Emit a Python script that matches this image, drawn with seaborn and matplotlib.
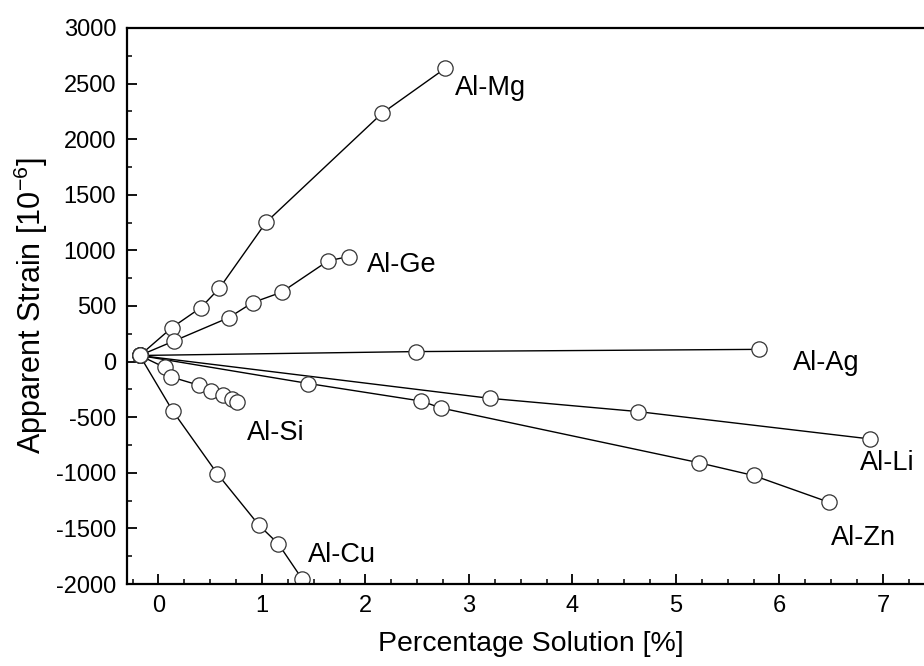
import pandas as pd
import matplotlib
matplotlib.use("Agg")
import matplotlib.pyplot as plt
import seaborn as sns
from matplotlib.ticker import MultipleLocator

# common starting point shared by all alloys
x0, y0 = -0.18, 55

# Percentage solution [%] / apparent strain [1e-6] per alloy
mg_x = [x0, 0.13, 0.41, 0.59, 1.04, 2.16, 2.77]
mg_y = [y0, 305, 485, 660, 1252, 2232, 2636]

ge_x = [x0, 0.15, 0.68, 0.91, 1.19, 1.64, 1.84]
ge_y = [y0, 185, 395, 530, 624, 906, 945]

ag_x = [x0, 2.49, 5.80]
ag_y = [y0, 90, 110]

li_x = [x0, 3.20, 4.63, 6.88]
li_y = [y0, -330, -449, -696]

zn_x = [x0, 1.45, 2.54, 2.73, 5.22, 5.75, 6.48]
zn_y = [y0, -197, -355, -417, -909, -1024, -1265]

si_x = [x0, 0.06, 0.12, 0.39, 0.51, 0.62, 0.71, 0.76]
si_y = [y0, -52, -137, -212, -263, -296, -338, -362]

cu_x = [x0, 0.14, 0.57, 0.97, 1.16, 1.39]
cu_y = [y0, -446, -1009, -1469, -1640, -1956]

series = {
    "Al-Mg": (mg_x, mg_y),
    "Al-Ge": (ge_x, ge_y),
    "Al-Ag": (ag_x, ag_y),
    "Al-Li": (li_x, li_y),
    "Al-Zn": (zn_x, zn_y),
    "Al-Si": (si_x, si_y),
    "Al-Cu": (cu_x, cu_y),
}

# label positions (data coords, left edge / vertical centre)
label_pos = {
    "Al-Mg": (2.87, 2460),
    "Al-Ge": (2.02, 870),
    "Al-Ag": (6.13, -15),
    "Al-Li": (6.78, -915),
    "Al-Zn": (6.50, -1590),
    "Al-Si": (0.86, -640),
    "Al-Cu": (1.45, -1740),
}

sns.set_style("ticks")
plt.rcParams["font.family"] = ["Liberation Sans", "DejaVu Sans"]
plt.rcParams["mathtext.fontset"] = "custom"
plt.rcParams["mathtext.rm"] = "Liberation Sans"
plt.rcParams["axes.unicode_minus"] = False

fig = plt.figure(figsize=(9.24, 6.66), dpi=100)
# right spine falls just outside the picture, like the reference
ax = fig.add_axes([0.1378, 0.1231, 0.8737, 0.8349])

for name, (xs, ys) in series.items():
    df = pd.DataFrame({"x": xs, "y": ys})
    sns.lineplot(
        data=df, x="x", y="y", ax=ax, sort=False, estimator=None,
        color="black", linewidth=1.0, marker="o", markersize=11,
        markerfacecolor="white", markeredgecolor="#333333",
        markeredgewidth=0.9,
    )

for name, (lx, ly) in label_pos.items():
    ax.text(lx, ly, name, fontsize=19.5, ha="left", va="center", color="black")

ax.set_xlim(-0.3, 7.5)
ax.set_ylim(-2000, 3000)
ax.xaxis.set_major_locator(MultipleLocator(1))
ax.xaxis.set_minor_locator(MultipleLocator(0.25))
ax.yaxis.set_major_locator(MultipleLocator(500))
ax.yaxis.set_minor_locator(MultipleLocator(250))
ax.tick_params(which="major", direction="in", length=7, width=1.3,
               labelsize=17, pad=8, top=False, right=False,
               color="black", labelcolor="black")
ax.tick_params(which="minor", direction="in", length=3.5, width=1.1,
               top=False, right=False, color="black")
for sp in ax.spines.values():
    sp.set_linewidth(1.6)
    sp.set_color("black")

ax.set_xlabel("Percentage Solution [%]", fontsize=20.5, labelpad=10, color="black")
ax.set_ylabel("Apparent Strain [10$^{\\mathregular{-6}}$]", fontsize=22, labelpad=4,
              color="black")

fig.savefig("out.png", dpi=100)
